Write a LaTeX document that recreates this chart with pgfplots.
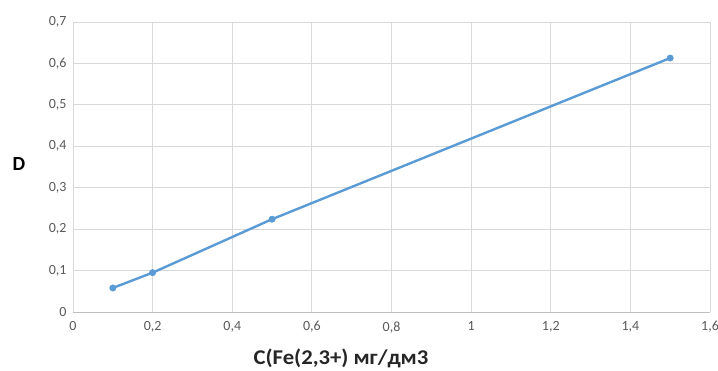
\documentclass[border=0pt]{standalone}
\usepackage{fontspec}
\setmainfont{Carlito}
\usepackage{pgfplots}
\pgfplotsset{compat=1.18}
\definecolor{serblue}{HTML}{5B9BD5}
\definecolor{gridgray}{HTML}{D9D9D9}
\definecolor{axgray}{HTML}{BFBFBF}
\definecolor{ticktext}{HTML}{595959}
\begin{document}
\begin{tikzpicture}
\useasboundingbox (-73pt,-59pt) rectangle (645pt,312pt);
\begin{axis}[
  scale only axis,
  width=637pt, height=290pt,
  xmin=0, xmax=1.6, ymin=0, ymax=0.7,
  xtick={0,0.2,...,1.6}, ytick={0,0.1,...,0.7},
  /pgf/number format/use comma,
  /pgf/number format/assume math mode=true,
  xmajorgrids, ymajorgrids,
  major grid style={gridgray, line width=0.8pt},
  axis line style={draw=none},
  tick style={draw=none},
  ticklabel style={font=\fontsize{14}{16}\selectfont, text=ticktext},
  yticklabel style={xshift=-3pt},
  xticklabel style={yshift=-6pt},
  clip=false,
]
\draw[axgray, line width=0.9pt] (axis cs:0,0) -- (axis cs:1.6,0);
\addplot[serblue, line width=2.4pt, mark=*, mark size=3.2pt, mark options={fill=serblue, draw=serblue, line width=0.5pt}]
  coordinates {(0.1,0.058) (0.2,0.095) (0.5,0.224) (1.5,0.613)};
\end{axis}
\node[font=\fontsize{21}{24}\selectfont\bfseries, text=black!85, xscale=1.08] at (268pt,-46pt) {C(Fe(2,3+) мг/дм3};
\node[font=\fontsize{20}{24}\selectfont\bfseries, text=black] at (-54pt,148pt) {D};
\end{tikzpicture}
\end{document}
